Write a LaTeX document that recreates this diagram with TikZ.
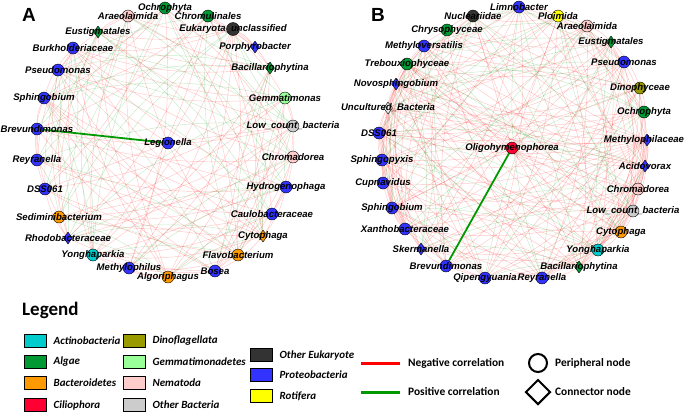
\documentclass[tikz,border=0pt]{standalone}
\usepackage{fontspec}
\setmainfont{Liberation Sans}
\newfontfamily\legfont{Carlito}
\usetikzlibrary{shapes.geometric,positioning}
\pgfdeclarelayer{edges}
\pgfsetlayers{edges,main}
\definecolor{actino}{HTML}{00CCCC}
\definecolor{algae}{HTML}{009933}
\definecolor{bactero}{HTML}{FF9900}
\definecolor{cilio}{HTML}{FF0033}
\definecolor{dino}{HTML}{999900}
\definecolor{gemma}{HTML}{99FF99}
\definecolor{nema}{HTML}{FFCCCC}
\definecolor{othbac}{HTML}{CCCCCC}
\definecolor{otheuk}{HTML}{333333}
\definecolor{proteo}{HTML}{3333FF}
\definecolor{rotif}{HTML}{FFFF00}
\tikzset{
  % taxa: peripheral and connector nodes
  peri/.style={circle,draw=black,line width=.4pt,minimum size=12,inner sep=0},
  conn/.style={diamond,draw=black,line width=.4pt,minimum width=9,minimum height=12,inner sep=0},
  tx/.style={font=\fontsize{9.6}{10}\selectfont\bfseries\itshape,inner sep=0},
  % faint correlation edges
  negedge/.style={draw=red,opacity=.22,line width=.45pt},
  posedge/.style={draw=green!60!black,opacity=.22,line width=.45pt},
  strong/.style={draw=green!60!black,line width=1.8pt},
  % legend
  legbox/.style={draw=black,line width=.8pt,minimum width=22,minimum height=13,inner sep=0},
  legtx/.style={font=\legfont\fontsize{11}{12}\selectfont\bfseries\itshape,inner sep=0,anchor=west},
  legup/.style={font=\legfont\fontsize{11.4}{12}\selectfont\bfseries,inner sep=0,anchor=west},
  panel/.style={font=\fontsize{19}{20}\selectfont\bfseries,inner sep=0},
}
\begin{document}
\begin{tikzpicture}[x=1pt,y=-1pt]
\useasboundingbox (0,0) rectangle (685,413);

\node[panel] (pA) at (29,15) {A};
\node[panel] (pB) at (378,15) {B};

% network A
\node[peri,fill=algae,label={[tx]center:Ochrophyta}] (a1) at (165,8) {};
\node[peri,fill=algae,label={[tx]center:Chromulinales}] (a2) at (208,16) {};
\node[peri,fill=otheuk,minimum size=13,label={[tx]center:Eukaryota\_unclassified}] (a3) at (233,29) {};
\node[conn,fill=proteo,label={[tx]center:Porphyrobacter}] (a4) at (255,47) {};
\node[conn,fill=algae,label={[tx]center:Bacillariophytina}] (a5) at (270,68) {};
\node[peri,fill=gemma,label={[tx]center:Gemmatimonas}] (a6) at (285,98) {};
\node[peri,fill=othbac,label={[tx]center:Low\_count\_bacteria}] (a7) at (293,126) {};
\node[peri,fill=nema,label={[tx]center:Chromadorea}] (a8) at (293,157) {};
\node[peri,fill=proteo,label={[tx]center:Hydrogenophaga}] (a9) at (286,187) {};
\node[peri,fill=proteo,label={[tx]center:Caulobacteraceae}] (a10) at (272,214) {};
\node[conn,fill=bactero,label={[tx]center:Cytophaga}] (a11) at (263,236) {};
\node[peri,fill=bactero,label={[tx]center:Flavobacterium}] (a12) at (238,255) {};
\node[peri,fill=proteo,label={[tx]center:Bosea}] (a13) at (215,271) {};
\node[peri,fill=bactero,label={[tx]center:Algoriphagus}] (a14) at (168,277) {};
\node[peri,fill=proteo,label={[tx]center:Methylophilus}] (a15) at (129,268) {};
\node[peri,fill=actino,label={[tx]center:Yonghaparkia}] (a16) at (93,255) {};
\node[conn,fill=proteo,label={[tx]center:Rhodobacteraceae}] (a17) at (68,238) {};
\node[peri,fill=bactero,label={[tx]center:Sediminibacterium}] (a18) at (59,217) {};
\node[peri,fill=proteo,label={[tx]center:DSS061}] (a19) at (45,189) {};
\node[peri,fill=proteo,label={[tx]center:Reyranella}] (a20) at (37,160) {};
\node[peri,fill=proteo,label={[tx]center:Brevundimonas}] (a21) at (37,129) {};
\node[peri,fill=proteo,label={[tx]center:Sphingobium}] (a22) at (44,98) {};
\node[peri,fill=proteo,label={[tx]center:Pseudomonas}] (a23) at (58,70) {};
\node[peri,fill=proteo,label={[tx]center:Burkholderiaceae}] (a24) at (73,48) {};
\node[conn,fill=algae,label={[tx]center:Eustigmatales}] (a25) at (98,32) {};
\node[peri,fill=nema,label={[tx]center:Araeolaimida}] (a26) at (128,16) {};
\node[peri,fill=proteo,label={[tx]center:Legionella}] (aL) at (168,143) {};

% network B
\node[peri,fill=proteo,label={[tx]center:Limnobacter}] (b1) at (519,7) {};
\node[peri,fill=rotif,label={[tx]center:Ploimida}] (b2) at (558,16) {};
\node[peri,fill=nema,label={[tx]center:Araeolaimida}] (b3) at (587,26) {};
\node[conn,fill=algae,label={[tx]center:Eustigmatales}] (b4) at (611,42) {};
\node[peri,fill=proteo,label={[tx]center:Pseudomonas}] (b5) at (624,62) {};
\node[peri,fill=dino,label={[tx]center:Dinophyceae}] (b6) at (640,88) {};
\node[peri,fill=algae,label={[tx]center:Ochrophyta}] (b7) at (644,112) {};
\node[conn,fill=proteo,label={[tx,xshift=-3]center:Methylophilaceae}] (b8) at (647,140) {};
\node[conn,fill=proteo,label={[tx]center:Acidovorax}] (b9) at (645,166) {};
\node[peri,fill=nema,label={[tx]center:Chromadorea}] (b10) at (638,189) {};
\node[peri,fill=othbac,label={[tx]center:Low\_count\_bacteria}] (b11) at (633,211) {};
\node[peri,fill=bactero,label={[tx]center:Cytophaga}] (b12) at (621,232) {};
\node[peri,fill=actino,label={[tx]center:Yonghaparkia}] (b13) at (598,250) {};
\node[conn,fill=algae,label={[tx]center:Bacillariophytina}] (b14) at (579,267) {};
\node[peri,fill=proteo,label={[tx]center:Reyranella}] (b15) at (542,278) {};
\node[peri,fill=proteo,label={[tx]center:Qipengyuania}] (b16) at (485,278) {};
\node[peri,fill=proteo,label={[tx]center:Brevundimonas}] (b17) at (446,266) {};
\node[conn,fill=proteo,label={[tx]center:Skermanella}] (b18) at (421,249) {};
\node[peri,fill=proteo,label={[tx]center:Xanthobacteraceae}] (b19) at (405,229) {};
\node[peri,fill=proteo,label={[tx]center:Sphingobium}] (b20) at (392,208) {};
\node[peri,fill=proteo,label={[tx]center:Cupriavidus}] (b21) at (383,183) {};
\node[peri,fill=proteo,label={[tx]center:Sphingopyxis}] (b22) at (382,160) {};
\node[peri,fill=proteo,label={[tx]center:DSS061}] (b23) at (379,133) {};
\node[conn,fill=othbac!40,label={[tx]center:Uncultured\_Bacteria}] (b24) at (388,108) {};
\node[conn,fill=proteo,label={[tx]center:Novosphingobium}] (b25) at (396,84) {};
\node[peri,fill=algae,label={[tx]center:Trebouxiophyceae}] (b26) at (407,64) {};
\node[peri,fill=proteo,label={[tx]center:Methyloversatilis}] (b27) at (424,46) {};
\node[peri,fill=algae,label={[tx]center:Chrysophyceae}] (b28) at (447,30) {};
\node[peri,fill=otheuk,label={[tx]center:Nucleariidae}] (b29) at (473,16) {};
\node[peri,fill=cilio,label={[tx]center:Oligohymenophorea}] (bO) at (512,148) {};

\begin{pgfonlayer}{edges}
\foreach \i in {1,...,25}{
  \pgfmathtruncatemacro\js{\i+1}
  \foreach \j in {\js,...,26}{
    \pgfmathtruncatemacro\k{mod(\i*\i*3+\j*7+\i*\j,11)}
    \ifnum\k<4 \draw[negedge] (a\i) to[bend left=12] (a\j);\fi
    \ifnum\k>8 \draw[posedge] (a\i) to[bend right=12] (a\j);\fi
  }
}
\foreach \i in {1,...,28}{
  \pgfmathtruncatemacro\js{\i+1}
  \foreach \j in {\js,...,29}{
    \pgfmathtruncatemacro\k{mod(\i*\i*5+\j*3+\i*\j,11)}
    \ifnum\k<4 \draw[negedge] (b\i) to[bend left=12] (b\j);\fi
    \ifnum\k>8 \draw[posedge] (b\i) to[bend right=12] (b\j);\fi
  }
}
\foreach \j in {3,7,11,15,19,23}
  \draw[negedge] (aL) -- (a\j);
\foreach \j in {2,5,8,11,14,20,23,26,29}
  \draw[negedge] (bO) -- (b\j);
\draw[strong] (a21) -- (aL);
\draw[strong] (b17) -- (bO);
\end{pgfonlayer}

% legend
\node[font=\legfont\fontsize{19}{20}\selectfont\bfseries,anchor=west,inner sep=0] (leg) at (22,310) {Legend};
\foreach \c/\x/\y/\t in {actino/35/341/Actinobacteria,algae/35/362/Algae,
  bactero/35/383/Bacteroidetes,cilio/35/405/Ciliophora,
  dino/134/341/Dinoflagellata,gemma/134/362/Gemmatimonadetes,
  nema/134/383/Nematoda,othbac/134/405/Other Bacteria,
  otheuk/261/355/Other Eukaryote,proteo/261/375/Proteobacteria,
  rotif/261/396/Rotifera}{
  \node[legbox,fill=\c] (k\c) at (\x,\y) {};
  \node[legtx,right=7 of k\c] (t\c) {\t};
}
\coordinate (negA) at (361,363);
\coordinate (negB) at (400,363);
\coordinate (posA) at (361,392);
\coordinate (posB) at (400,392);
\draw[red,line width=3pt] (negA) -- (negB);
\draw[green!60!black,line width=3pt] (posA) -- (posB);
\node[legup,right=8 of negB] (tneg) {Negative correlation};
\node[legup,right=8 of posB] (tpos) {Positive correlation};
\node[circle,draw=black,line width=2pt,minimum size=18,inner sep=0] (symP) at (538,363) {};
\node[diamond,draw=black,line width=2pt,minimum size=25,inner sep=0] (symC) at (538,392) {};
\node[legup] (tP) at (555,363) {Peripheral node};
\node[legup] (tC) at (555,392) {Connector node};
\end{tikzpicture}
\end{document}
